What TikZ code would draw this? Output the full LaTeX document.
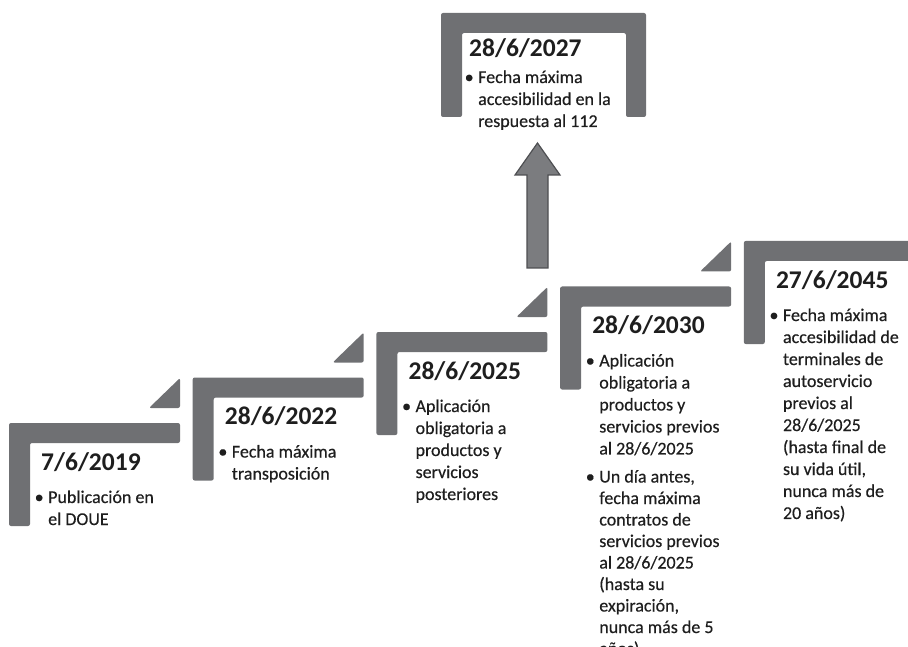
\documentclass[tikz,border=0pt]{standalone}
\usepackage{fontspec}
\setmainfont{Carlito}
\newfontfamily\cuerpo[FakeBold=0.4]{Carlito}
\usetikzlibrary{calc, positioning}

\definecolor{stepgray}{HTML}{6F7073}
\definecolor{arrowgray}{HTML}{7B7C7F}
\definecolor{arrowedge}{HTML}{4E4F52}
\definecolor{inkgray}{HTML}{1E1E1E}

\newcommand{\bul}[1]{\makebox[11pt][l]{\hspace*{-2.5pt}\textbullet}\parbox[t]{170pt}{#1}}

\tikzset{
  bar/.style={fill=stepgray, rounded corners=2pt},
  fecha/.style={anchor=base west, inner sep=0pt, text=inkgray, font=\fontsize{25.5}{30}\selectfont\bfseries},
  texto/.style={anchor=base west, inner sep=0pt, text=inkgray, font=\cuerpo\fontsize{18}{22}\selectfont},
}

\begin{document}
\begin{tikzpicture}[x=1pt, y=-1pt]
\def\W{171}
\def\H{103}
\def\T{20}
\useasboundingbox (0,0) rectangle (908,647);

\foreach \fecha [count=\k from 0] in {7/6/2019, 28/6/2022, 28/6/2025, 28/6/2030, 27/6/2045}{
  \coordinate (s\k) at (9+183.7*\k, 423-45.5*\k);
  \fill[bar] (s\k) -- ++(\W,0) -- ++(0,\T) -- ++(-\W+21,0) -- ++(0,\H-\T) -- ++(-21,0) -- cycle;
  \node[fecha] (f\k) at ($(s\k)+(32,47)$) {\fecha};
}

\foreach \k in {0,...,3}{
  \fill[bar] ($(s\k)+(\W,-15)$) -- ++(0,-30) -- ++(-31,30) -- cycle;
}

\node[texto] (b0) at ($(f0.base west)+(-4,33)$) {\bul{Publicación en\\el DOUE}};
\node[texto] (b1) at ($(f1.base west)+(-4,33)$) {\bul{Fecha máxima\\transposición}};
\node[texto] (b2) at ($(f2.base west)+(-4,33)$) {\bul{Aplicación\\obligatoria a\\productos y\\servicios\\posteriores}};
\node[texto] (b3a) at ($(f3.base west)+(-4,33)$) {\bul{Aplicación\\obligatoria a\\productos y\\servicios previos\\al 28/6/2025}};
\node[texto, font=\cuerpo\fontsize{18}{21.5}\selectfont] (b3b) at ($(b3a.base west)+(0,116)$) {\bul{Un día antes,\\fecha máxima\\contratos de\\servicios previos\\al 28/6/2025\\(hasta su\\expiración,\\nunca más de 5\\años)}};
\node[texto] (b4) at ($(f4.base west)+(-4,33)$) {\bul{Fecha máxima\\accesibilidad de\\terminales de\\autoservicio\\previos al\\28/6/2025\\(hasta final de\\su vida útil,\\nunca más de\\20 años)}};

\coordinate (top) at (441,13);
\fill[bar] (top) -- ++(205,0) -- ++(0,104) -- ++(-20,0) -- ++(0,-84) -- ++(-164,0) -- ++(0,84) -- ++(-21,0) -- cycle;
\node[fecha] (f5) at ($(top)+(28,44)$) {28/6/2027};
\node[texto] (b5) at ($(f5.base west)+(-2,26)$) {\bul{Fecha máxima\\accesibilidad en la\\respuesta al 112}};

\coordinate (ab) at (537.5,268);
\coordinate (at) at (537.5,143);
\filldraw[fill=arrowgray, draw=arrowedge, line width=1.2pt] ($(ab)+(-10.5,0)$) -- ($(ab)+(10.5,0)$) -- ($(at)+(10.5,32)$) -- ($(at)+(22.5,32)$) -- (at) -- ($(at)+(-22.5,32)$) -- ($(at)+(-10.5,32)$) -- cycle;
\end{tikzpicture}
\end{document}
